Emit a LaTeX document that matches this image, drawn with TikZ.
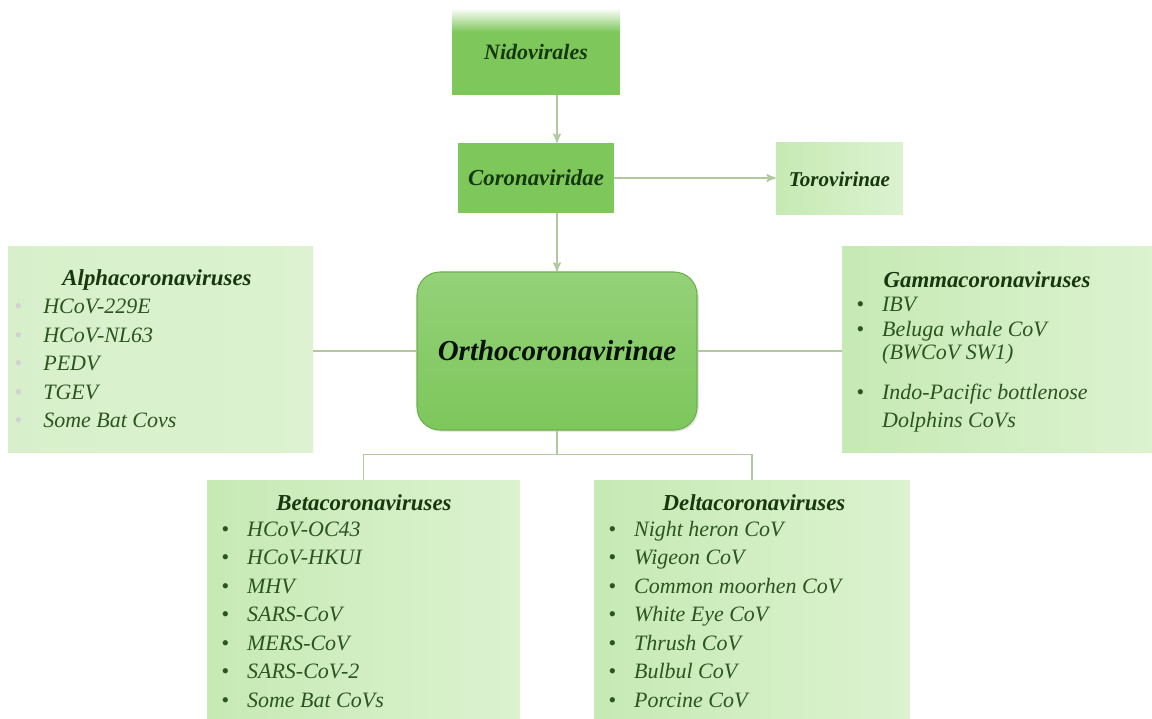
\documentclass[tikz,border=0pt]{standalone}
\usepackage{fontspec}
\setmainfont{Liberation Serif}
\usetikzlibrary{arrows}
\usetikzlibrary{fit}
\usetikzlibrary{shadows}
\usetikzlibrary{positioning}

\definecolor{midgreen}{HTML}{7DC75B}
\definecolor{palegreenA}{HTML}{C6EAB4}
\definecolor{palegreenB}{HTML}{DCF2D0}
\definecolor{linkgreen}{HTML}{B2C8A0}
\definecolor{titlegreen}{HTML}{17380F}
\definecolor{itemgreen}{HTML}{2C5421}

\newcommand{\bul}{\makebox[14.7pt][l]{\textbullet}}
\newcommand{\fbul}{\makebox[16.5pt][l]{\textcolor{black!18}{\textbullet}}}

\begin{document}
\begin{tikzpicture}[x=0.02cm, y=-0.02cm,
    darkbox/.style={fill=midgreen, inner sep=0pt},
    lightbox/.style={left color=palegreenA, right color=palegreenB, inner sep=0pt},
    headtext/.style={font=\fontsize{13}{15}\selectfont\bfseries\itshape, text=titlegreen, inner sep=0pt},
    item/.style={anchor=west, font=\fontsize{12.5}{15}\selectfont\itshape, text=itemgreen,
                 inner sep=0pt, text height=9pt, text depth=3pt},
    link/.style={draw=linkgreen, line width=0.9pt, >=stealth'}]
    \useasboundingbox (0,0) rectangle (1152,719);

    % top chain
    \node[darkbox, fit={(452,8) (620,95)}] (nido) {};
    \shade[top color=white, bottom color=midgreen] (452,8) rectangle (620,32);
    \node[headtext, font=\fontsize{12.5}{15}\selectfont\bfseries\itshape] (nidoT) at (nido) {Nidovirales};
    \node[darkbox, fit={(458,143) (614,213)}] (corona) {};
    \node[headtext] (coronaT) at (corona) {Coronaviridae};
    \node[lightbox, fit={(776,143) (903,215)}] (toro) {};
    \node[headtext, font=\fontsize{12}{15}\selectfont\bfseries\itshape] (toroT) at (toro) {Torovirinae};

    \node[top color=midgreen!82!white, bottom color=midgreen, draw=midgreen!88!black, line width=0.6pt,
          rounded corners=13pt, drop shadow={opacity=0.2, shadow xshift=1pt, shadow yshift=-1pt},
          fit={(417,272) (697,430)}, inner sep=0pt] (ortho) {};
    \node[headtext, font=\fontsize{16.5}{18}\selectfont\bfseries\itshape, text=black!70!titlegreen] (orthoT) at (ortho) {Orthocoronavirinae};

    % genera
    \node[lightbox, left color=palegreenA!70!white, fit={(8,247) (313,452)}] (alpha) {};
    \node[headtext] (alphaT) at (157,280) {Alphacoronaviruses};
    \foreach \v [count=\i] in {HCoV-229E, HCoV-NL63, PEDV, TGEV, Some Bat Covs}
        \node[item] (alpha-\i) at (14,280+28.5*\i) {\fbul\v};

    \node[lightbox, fit={(842,247) (1152,452)}] (gamma) {};
    \node[headtext] (gammaT) at (987,280) {Gammacoronaviruses};
    \node[item] (gamma-1) at (856,306) {\bul IBV};
    \node[item] (gamma-2) at (856,331) {\bul Beluga whale CoV};
    \node[item] (gamma-3) at (856,354) {\makebox[14.7pt][l]{}(BWCoV SW1)};
    \node[item] (gamma-4) at (856,394) {\bul Indo-Pacific bottlenose};
    \node[item] (gamma-5) at (856,422) {\makebox[14.7pt][l]{}Dolphins CoVs};

    \node[lightbox, fit={(207,480) (520,719)}] (beta) {};
    \node[headtext] (betaT) at (364,503) {Betacoronaviruses};
    \foreach \v [count=\i] in {HCoV-OC43, HCoV-HKUI, MHV, SARS-CoV, MERS-CoV, SARS-CoV-2, Some Bat CoVs}
        \node[item] (beta-\i) at (221,502.5+28.5*\i) {\bul\v};

    \node[lightbox, fit={(594,480) (910,719)}] (delta) {};
    \node[headtext] (deltaT) at (754,503) {Deltacoronaviruses};
    \foreach \v [count=\i] in {Night heron CoV, Wigeon CoV, Common moorhen CoV, White Eye CoV, Thrush CoV, Bulbul CoV, Porcine CoV}
        \node[item] (delta-\i) at (608,502.5+28.5*\i) {\bul\v};

    % connectors
    \draw[link,->] (nido.south -| ortho.north) -- (corona.north -| ortho.north);
    \draw[link,->] (corona.south -| ortho.north) -- (ortho.north);
    \draw[link,->] (corona.east) -- (corona.east -| toro.west);
    \draw[link] (ortho.west -| alpha.east) -- (ortho.west);
    \draw[link] (ortho.east) -- (ortho.east -| gamma.west);
    \coordinate[below=0.48cm of ortho.south] (fork);
    \draw[link] (ortho.south) -- (fork);
    \draw[link] (beta.north) |- (fork) -| (delta.north);
\end{tikzpicture}
\end{document}
